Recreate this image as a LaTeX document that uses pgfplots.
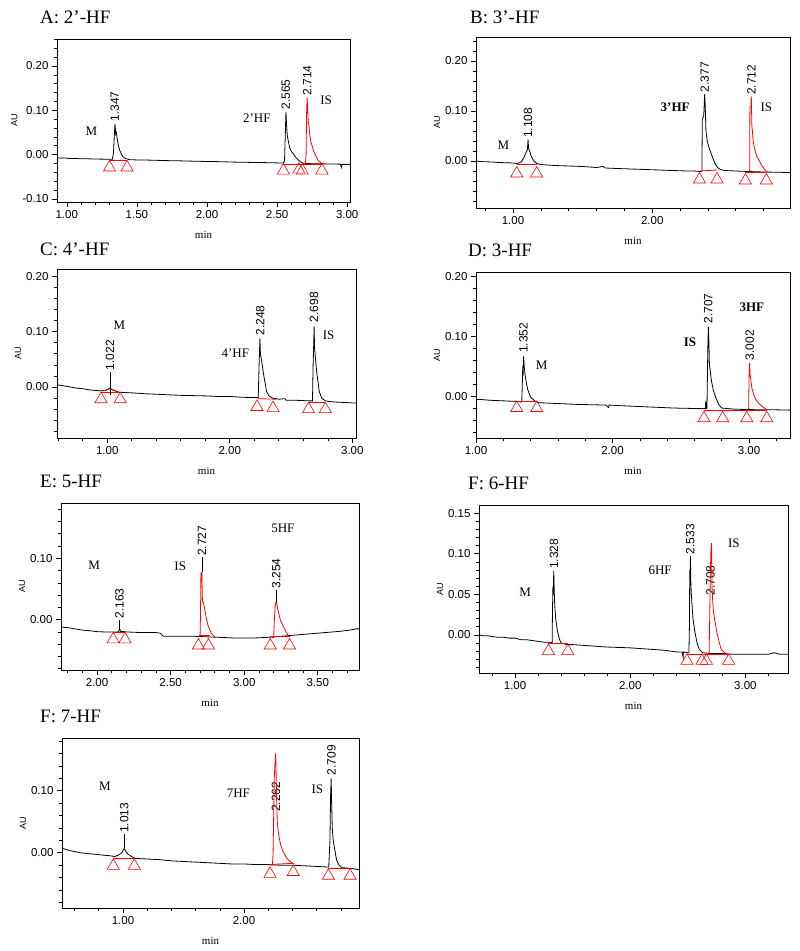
\documentclass[border=0pt]{standalone}
\usepackage{fontspec}
\setmainfont{Liberation Serif}
\newfontfamily\arial{Liberation Sans}
\usepackage{pgfplots}
\pgfplotsset{compat=1.18}

\pgfplotsset{chrom/.style={
  scale only axis, anchor=south west,
  axis line style={line width=0.8pt},
  tick align=outside, tick pos=left,
  major tick length=5pt, minor tick length=3pt,
  tick style={line width=0.6pt, black},
  ticklabel style={font=\arial\fontsize{11.5}{12}\selectfont},
  xticklabel style={/pgf/number format/.cd, fixed, fixed zerofill, precision=2, assume math mode=true},
  yticklabel style={/pgf/number format/.cd, fixed, fixed zerofill, precision=2, assume math mode=true},
  scaled ticks=false,
  xlabel={min}, ylabel={AU},
  xlabel style={font=\fontsize{11}{11}\selectfont, yshift=-6pt},
  ylabel style={font=\arial\fontsize{9}{9}\selectfont, yshift=-2pt},
  every axis title shift=0pt,
  title style={at={(rel axis cs:0,1)}, anchor=base west, inner sep=0pt, font=\fontsize{19}{19}\selectfont},
}}
\tikzset{
  rt/.style={rotate=90, anchor=west, inner sep=1pt, font=\arial\fontsize{12}{12}\selectfont},
  nm/.style={inner sep=0pt, font=\fontsize{13}{13}\selectfont},
  blk/.style={black, line width=0.8pt},
  rd/.style={red, line width=0.8pt},
  tri/.style={only marks, mark=triangle, mark size=7pt, red, mark options={line width=0.6pt, fill=none}},
  ld/.style={black, line width=0.6pt},
}

\begin{document}
\begin{tikzpicture}
\useasboundingbox (0pt,0pt) rectangle (800pt,-951pt);

% ---------- A: 2'-HF
\begin{axis}[chrom, at={(57pt,-202pt)}, width=293pt, height=163pt,
  title={A: 2’-HF}, title style={xshift=-17pt, yshift=16pt},
  xmin=0.93, xmax=3.02, ymin=-0.107, ymax=0.261,
  xtick={1,1.5,2,2.5,3}, minor xtick={1.0,1.1,...,3.0},
  ytick={-0.1,0,0.1,0.2}, minor ytick={-0.1,-0.08,...,0.26}]
\addplot[blk] coordinates {(0.93,-0.007) (0.96,-0.008) (0.99,-0.0075) (1.02,-0.009) (1.06,-0.0085) (1.10,-0.0095) (1.15,-0.0095) (1.20,-0.010) (1.25,-0.0102) (1.30,-0.0105) (1.325,-0.0106) (1.333,0.004) (1.339,0.045) (1.344,0.069) (1.349,0.046) (1.354,0.050) (1.36,0.035) (1.368,0.020) (1.378,0.009) (1.39,0.001) (1.40,-0.005) (1.42,-0.009) (1.45,-0.0115) (1.50,-0.012) (1.60,-0.0125) (1.70,-0.0135) (1.80,-0.014) (1.90,-0.0148) (2.00,-0.0155) (2.10,-0.016) (2.20,-0.017) (2.30,-0.0175) (2.40,-0.018) (2.50,-0.0187) (2.545,-0.019) (2.553,-0.014) (2.558,0.04) (2.563,0.096) (2.567,0.07) (2.572,0.045) (2.58,0.03) (2.59,0.015) (2.60,0.008) (2.615,0.002) (2.63,-0.005) (2.65,-0.012) (2.67,-0.017) (2.69,-0.020) (2.75,-0.0205) (2.85,-0.021) (2.95,-0.0215) (2.96,-0.029) (2.962,-0.022) (3.02,-0.022)};
\addplot[rd] coordinates {(2.69,-0.020) (2.702,-0.020) (2.707,0.0) (2.710,0.09) (2.714,0.128) (2.718,0.105) (2.722,0.075) (2.727,0.065) (2.733,0.045) (2.74,0.03) (2.75,0.02) (2.76,0.008) (2.775,-0.002) (2.79,-0.012) (2.81,-0.018) (2.83,-0.0205)};
\addplot[rd] coordinates {(1.305,-0.013) (1.43,-0.013)};
\addplot[rd] coordinates {(2.545,-0.022) (2.82,-0.022)};
\addplot[tri] coordinates {(1.305,-0.029) (1.43,-0.029) (2.545,-0.036) (2.655,-0.034) (2.68,-0.036) (2.82,-0.036)};
\node[rt] at (axis cs:1.342,0.072) {1.347};
\node[rt] at (axis cs:2.562,0.099) {2.565};
\node[rt] at (axis cs:2.714,0.131) {2.714};
\node[nm] at (axis cs:1.176,0.053) {M};
\node[nm] at (axis cs:2.355,0.082) {2'HF};
\node[nm] at (axis cs:2.85,0.122) {IS};
\end{axis}

% ---------- B: 3'-HF
\begin{axis}[chrom, at={(476pt,-208pt)}, width=314pt, height=171pt,
  title={B: 3’-HF}, title style={xshift=-6pt, yshift=14pt},
  xmin=0.734, xmax=2.99, ymin=-0.094, ymax=0.248,
  xtick={1,2}, minor xtick={0.8,1.0,...,2.8},
  ytick={0,0.1,0.2}, minor ytick={-0.08,-0.06,...,0.24}]
\addplot[blk] coordinates {(0.734,0.0) (0.76,-0.001) (0.80,-0.0015) (0.85,-0.002) (0.90,-0.003) (0.95,-0.0035) (1.00,-0.004) (1.03,-0.005) (1.06,-0.002) (1.08,0.008) (1.095,0.018) (1.103,0.022) (1.108,0.043) (1.112,0.025) (1.12,0.02) (1.13,0.01) (1.15,0.0) (1.17,-0.005) (1.20,-0.007) (1.30,-0.009) (1.40,-0.010) (1.50,-0.011) (1.60,-0.013) (1.65,-0.011) (1.66,-0.014) (1.75,-0.015) (1.85,-0.016) (1.95,-0.017) (2.05,-0.018) (2.15,-0.019) (2.25,-0.020) (2.30,-0.020) (2.35,-0.021) (2.357,-0.02) (2.36,0.085) (2.37,0.09) (2.374,0.115) (2.377,0.134) (2.381,0.11) (2.386,0.06) (2.395,0.04) (2.41,0.025) (2.43,0.01) (2.45,-0.005) (2.47,-0.013) (2.49,-0.017) (2.52,-0.019) (2.60,-0.020) (2.69,-0.021) (2.80,-0.022) (2.90,-0.0225) (2.99,-0.023)};
\addplot[rd] coordinates {(2.69,-0.021) (2.70,-0.021) (2.702,0.108) (2.709,0.108) (2.712,0.129) (2.716,0.07) (2.72,0.06) (2.725,0.04) (2.735,0.025) (2.75,0.01) (2.77,0.0) (2.79,-0.01) (2.81,-0.018) (2.83,-0.022)};
\addplot[rd] coordinates {(1.027,-0.006) (1.17,-0.006)};
\addplot[rd] coordinates {(2.34,-0.020) (2.466,-0.018)};
\addplot[rd] coordinates {(2.67,-0.023) (2.82,-0.023)};
\addplot[tri] coordinates {(1.027,-0.025) (1.17,-0.025) (2.34,-0.037) (2.466,-0.037) (2.67,-0.039) (2.82,-0.039)};
\node[rt] at (axis cs:1.108,0.044) {1.108};
\node[rt] at (axis cs:2.377,0.135) {2.377};
\node[rt] at (axis cs:2.712,0.130) {2.712};
\node[nm] at (axis cs:0.93,0.031) {M};
\node[nm] at (axis cs:2.165,0.107) {\bfseries 3'HF};
\node[nm] at (axis cs:2.82,0.107) {IS};
\end{axis}

% ---------- C: 4'-HF
\begin{axis}[chrom, at={(57pt,-438pt)}, width=299pt, height=169pt,
  title={C: 4’-HF}, title style={xshift=-17pt, yshift=14pt},
  xmin=0.59, xmax=3.03, ymin=-0.092, ymax=0.213,
  xtick={1,2,3}, minor xtick={0.6,0.8,...,3.0},
  ytick={0,0.1,0.2}, minor ytick={-0.08,-0.06,...,0.2}]
\addplot[blk] coordinates {(0.59,0.004) (0.65,0.002) (0.70,0.0) (0.75,-0.002) (0.80,-0.003) (0.85,-0.005) (0.90,-0.006) (0.95,-0.007) (0.99,-0.006) (1.022,-0.002) (1.05,-0.006) (1.10,-0.0095) (1.20,-0.0105) (1.30,-0.012) (1.40,-0.013) (1.50,-0.014) (1.60,-0.015) (1.70,-0.0155) (1.80,-0.016) (1.90,-0.017) (2.00,-0.017) (2.10,-0.0185) (2.20,-0.019) (2.232,-0.019) (2.238,0.03) (2.242,0.06) (2.246,0.088) (2.250,0.06) (2.258,0.05) (2.268,0.035) (2.278,0.02) (2.29,0.005) (2.30,-0.008) (2.32,-0.016) (2.35,-0.020) (2.40,-0.022) (2.45,-0.021) (2.46,-0.024) (2.55,-0.024) (2.65,-0.025) (2.675,-0.025) (2.680,0.04) (2.684,0.07) (2.688,0.109) (2.692,0.07) (2.70,0.05) (2.71,0.025) (2.72,0.01) (2.73,-0.008) (2.75,-0.02) (2.78,-0.025) (2.85,-0.027) (2.95,-0.028) (3.03,-0.029)};
\addplot[rd] coordinates {(0.949,-0.009) (1.106,-0.009)};
\addplot[rd] coordinates {(0.97,-0.007) (1.022,-0.003) (1.08,-0.008)};
\addplot[rd] coordinates {(2.222,-0.021) (2.38,-0.022)};
\addplot[rd] coordinates {(2.643,-0.0276) (2.78,-0.0276)};
\addplot[ld] coordinates {(1.022,-0.015) (1.022,0.028)};
\addplot[tri] coordinates {(0.949,-0.022) (1.106,-0.022) (2.222,-0.036) (2.353,-0.038) (2.643,-0.040) (2.78,-0.040)};
\node[rt] at (axis cs:1.022,0.028) {1.022};
\node[rt] at (axis cs:2.249,0.091) {2.248};
\node[rt] at (axis cs:2.688,0.115) {2.698};
\node[nm] at (axis cs:1.10,0.112) {M};
\node[nm] at (axis cs:2.045,0.061) {4'HF};
\node[nm] at (axis cs:2.806,0.094) {IS};
\end{axis}

% ---------- D: 3-HF
\begin{axis}[chrom, at={(476pt,-438pt)}, width=314pt, height=166pt,
  title={D: 3-HF}, title style={xshift=-8pt, yshift=16pt},
  xmin=1.0, xmax=3.30, ymin=-0.07, ymax=0.207,
  xtick={1,2,3}, minor xtick={1.0,1.2,...,3.2},
  ytick={0,0.1,0.2}, minor ytick={-0.06,-0.04,...,0.2}]
\addplot[blk] coordinates {(1.00,-0.0055) (1.05,-0.006) (1.10,-0.007) (1.15,-0.0075) (1.20,-0.008) (1.25,-0.0085) (1.30,-0.009) (1.335,-0.010) (1.338,0.01) (1.342,0.045) (1.346,0.04) (1.349,0.066) (1.353,0.05) (1.36,0.035) (1.37,0.02) (1.38,0.01) (1.40,-0.002) (1.43,-0.008) (1.46,-0.011) (1.55,-0.012) (1.65,-0.013) (1.75,-0.014) (1.85,-0.0145) (1.95,-0.015) (1.97,-0.019) (1.975,-0.015) (2.05,-0.016) (2.15,-0.017) (2.25,-0.018) (2.35,-0.019) (2.45,-0.020) (2.55,-0.0205) (2.65,-0.021) (2.68,-0.021) (2.683,-0.008) (2.686,-0.021) (2.692,-0.021) (2.696,0.05) (2.699,0.09) (2.702,0.116) (2.706,0.09) (2.71,0.05) (2.714,0.045) (2.725,0.025) (2.738,0.01) (2.76,-0.005) (2.78,-0.015) (2.80,-0.02) (2.90,-0.022) (3.0,-0.0225) (3.1,-0.023) (3.2,-0.023) (3.30,-0.0235)};
\addplot[rd] coordinates {(2.99,-0.0225) (2.997,-0.022) (3.000,0.03) (3.004,0.055) (3.008,0.035) (3.014,0.025) (3.022,0.012) (3.035,0.002) (3.05,-0.006) (3.07,-0.012) (3.10,-0.018) (3.13,-0.023)};
\addplot[rd] coordinates {(1.298,-0.0085) (1.445,-0.0085)};
\addplot[rd] coordinates {(2.67,-0.0235) (3.13,-0.0235)};
\addplot[tri] coordinates {(1.298,-0.020) (1.445,-0.020) (2.67,-0.037) (2.807,-0.037) (2.983,-0.037) (3.13,-0.037)};
\node[rt] at (axis cs:1.347,0.070) {1.352};
\node[rt] at (axis cs:2.702,0.119) {2.707};
\node[rt] at (axis cs:3.005,0.058) {3.002};
\node[nm] at (axis cs:1.48,0.052) {M};
\node[nm] at (axis cs:2.568,0.0905) {\bfseries IS};
\node[nm] at (axis cs:3.02,0.149) {\bfseries 3HF};
\end{axis}

% ---------- E: 5-HF
\begin{axis}[chrom, at={(61pt,-670pt)}, width=298pt, height=167pt,
  title={E: 5-HF}, title style={xshift=-21pt, yshift=16pt},
  xmin=1.755, xmax=3.78, ymin=-0.082, ymax=0.19,
  xtick={2,2.5,3,3.5}, minor xtick={1.8,1.9,...,3.7},
  ytick={0,0.1}, minor ytick={-0.08,-0.06,...,0.18}]
\addplot[blk] coordinates {(1.755,-0.012) (1.80,-0.013) (1.85,-0.015) (1.90,-0.017) (1.95,-0.018) (2.00,-0.0195) (2.05,-0.020) (2.10,-0.020) (2.14,-0.020) (2.148,-0.019) (2.153,-0.014) (2.159,-0.019) (2.20,-0.020) (2.25,-0.0205) (2.30,-0.021) (2.35,-0.021) (2.40,-0.021) (2.43,-0.022) (2.45,-0.027) (2.55,-0.027) (2.65,-0.027) (2.75,-0.028) (2.85,-0.029) (2.95,-0.030) (3.05,-0.030) (3.15,-0.029) (3.25,-0.027) (3.35,-0.025) (3.45,-0.023) (3.55,-0.021) (3.65,-0.019) (3.72,-0.017) (3.76,-0.015) (3.78,-0.015)};
\addplot[rd] coordinates {(2.69,-0.027) (2.700,-0.027) (2.703,0.01) (2.706,0.076) (2.712,0.077) (2.716,0.03) (2.722,0.028) (2.73,0.02) (2.74,0.005) (2.755,-0.01) (2.775,-0.022) (2.80,-0.028)};
\addplot[rd] coordinates {(3.19,-0.029) (3.200,-0.029) (3.205,0.0) (3.21,0.02) (3.215,0.028) (3.22,0.029) (3.225,0.02) (3.235,0.01) (3.245,0.0) (3.26,-0.008) (3.28,-0.018) (3.30,-0.026)};
\addplot[rd] coordinates {(2.11,-0.0213) (2.19,-0.0213)};
\addplot[rd] coordinates {(2.69,-0.026) (2.77,-0.026)};
\addplot[rd] coordinates {(3.177,-0.028) (3.308,-0.028)};
\addplot[ld] coordinates {(2.153,-0.014) (2.153,0.0)};
\addplot[ld] coordinates {(2.712,0.077) (2.712,0.102)};
\addplot[ld] coordinates {(3.217,0.029) (3.217,0.049)};
\addplot[tri] coordinates {(2.11,-0.032) (2.19,-0.032) (2.689,-0.042) (2.757,-0.042) (3.177,-0.042) (3.308,-0.042)};
\node[rt] at (axis cs:2.153,0.0) {2.163};
\node[rt] at (axis cs:2.712,0.102) {2.727};
\node[rt] at (axis cs:3.217,0.049) {3.254};
\node[nm] at (axis cs:1.98,0.088) {M};
\node[nm] at (axis cs:2.565,0.087) {IS};
\node[nm] at (axis cs:3.263,0.149) {5HF};
\end{axis}

% ---------- F: 6-HF
\begin{axis}[chrom, at={(479pt,-673pt)}, width=309pt, height=168pt,
  title={F: 6-HF}, title style={xshift=-11pt, yshift=16pt},
  xmin=0.687, xmax=3.37, ymin=-0.047, ymax=0.16,
  xtick={1,2,3}, minor xtick={0.8,1.0,...,3.2},
  ytick={0,0.05,0.1,0.15}, minor ytick={-0.04,-0.03,...,0.15}]
\addplot[blk] coordinates {(0.687,0.0) (0.72,-0.001) (0.76,-0.001) (0.80,-0.002) (0.85,-0.003) (0.90,-0.003) (0.95,-0.004) (1.00,-0.004) (1.05,-0.006) (1.10,-0.006) (1.15,-0.007) (1.20,-0.008) (1.25,-0.009) (1.30,-0.009) (1.322,-0.010) (1.325,0.03) (1.329,0.06) (1.332,0.05) (1.336,0.079) (1.340,0.055) (1.345,0.035) (1.353,0.02) (1.368,0.005) (1.385,-0.005) (1.40,-0.010) (1.45,-0.012) (1.50,-0.012) (1.60,-0.013) (1.70,-0.014) (1.80,-0.015) (1.90,-0.0155) (2.00,-0.016) (2.10,-0.017) (2.20,-0.018) (2.30,-0.019) (2.35,-0.020) (2.40,-0.021) (2.45,-0.021) (2.46,-0.028) (2.462,-0.021) (2.50,-0.022) (2.51,-0.022) (2.514,0.01) (2.517,0.08) (2.520,0.075) (2.523,0.097) (2.527,0.06) (2.535,0.04) (2.545,0.02) (2.56,0.005) (2.58,-0.01) (2.60,-0.018) (2.63,-0.022) (2.70,-0.023) (2.80,-0.023) (2.90,-0.024) (3.00,-0.024) (3.10,-0.024) (3.20,-0.024) (3.25,-0.022) (3.30,-0.024) (3.37,-0.024)};
\node[rt] at (axis cs:2.697,0.047) {2.708};
\addplot[rd] coordinates {(2.675,-0.023) (2.685,-0.023) (2.69,0.02) (2.695,0.07) (2.70,0.10) (2.706,0.113) (2.71,0.06) (2.715,0.045) (2.722,0.03) (2.732,0.02) (2.75,0.005) (2.77,-0.008) (2.79,-0.018) (2.82,-0.022) (2.84,-0.023)};
\addplot[rd] coordinates {(1.29,-0.010) (1.458,-0.010)};
\addplot[rd] coordinates {(2.493,-0.0235) (2.855,-0.0235)};
\addplot[tri] coordinates {(1.29,-0.020) (1.458,-0.020) (2.493,-0.032) (2.623,-0.032) (2.661,-0.032) (2.855,-0.032)};
\node[rt] at (axis cs:1.339,0.080) {1.328};
\node[rt] at (axis cs:2.522,0.098) {2.533};
\node[nm] at (axis cs:1.087,0.052) {M};
\node[nm] at (axis cs:2.26,0.08) {6HF};
\node[nm] at (axis cs:2.90,0.113) {IS};
\end{axis}

% ---------- F: 7-HF
\begin{axis}[chrom, at={(62pt,-908pt)}, width=297pt, height=170pt,
  title={F: 7-HF}, title style={xshift=-22pt, yshift=16pt},
  xmin=0.496, xmax=2.95, ymin=-0.089, ymax=0.185,
  xtick={1,2}, minor xtick={0.6,0.8,...,2.8},
  ytick={0,0.1}, minor ytick={-0.08,-0.06,...,0.18}]
\addplot[blk] coordinates {(0.496,0.0076) (0.52,0.006) (0.55,0.004) (0.60,0.002) (0.65,0.0) (0.70,-0.001) (0.75,-0.002) (0.80,-0.003) (0.85,-0.004) (0.90,-0.005) (0.93,-0.006) (0.96,-0.004) (0.99,0.0) (1.003,0.005) (1.01,0.007) (1.018,0.004) (1.04,-0.002) (1.07,-0.006) (1.10,-0.009) (1.20,-0.010) (1.30,-0.011) (1.40,-0.013) (1.50,-0.014) (1.60,-0.015) (1.70,-0.016) (1.80,-0.017) (1.90,-0.018) (2.00,-0.018) (2.10,-0.019) (2.20,-0.019) (2.30,-0.020) (2.40,-0.020) (2.50,-0.021) (2.60,-0.022) (2.70,-0.023) (2.710,0.02) (2.715,0.09) (2.720,0.12) (2.724,0.08) (2.729,0.04) (2.737,0.02) (2.75,0.005) (2.765,-0.012) (2.785,-0.020) (2.81,-0.024) (2.88,-0.025) (2.95,-0.027)};
\node[rt] at (axis cs:2.265,0.064) {2.262};
\addplot[rd] coordinates {(2.21,-0.019) (2.235,-0.020) (2.24,0.0) (2.245,0.06) (2.25,0.12) (2.255,0.14) (2.262,0.161) (2.266,0.12) (2.27,0.08) (2.275,0.05) (2.285,0.03) (2.30,0.015) (2.32,0.003) (2.35,-0.008) (2.38,-0.014) (2.41,-0.018)};
\addplot[rd] coordinates {(0.92,-0.0086) (1.094,-0.0086)};
\addplot[rd] coordinates {(2.215,-0.019) (2.30,-0.018) (2.407,-0.017)};
\addplot[rd] coordinates {(2.697,-0.025) (2.876,-0.025)};
\addplot[ld] coordinates {(1.01,0.007) (1.01,0.03)};
\addplot[tri] coordinates {(0.92,-0.021) (1.094,-0.021) (2.215,-0.034) (2.407,-0.031) (2.697,-0.037) (2.876,-0.037)};
\node[rt] at (axis cs:1.01,0.03) {1.013};
\node[rt] at (axis cs:2.722,0.123) {2.709};
\node[nm] at (axis cs:0.85,0.107) {M};
\node[nm] at (axis cs:1.953,0.096) {7HF};
\node[nm] at (axis cs:2.606,0.102) {IS};
\end{axis}
\end{tikzpicture}
\end{document}
